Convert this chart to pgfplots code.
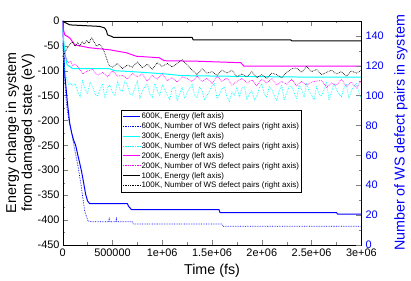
\documentclass[border=0pt]{standalone}
\usepackage{fontspec}
\setmainfont{Liberation Sans}
\usepackage{pgfplots}
\pgfplotsset{compat=1.18}
\definecolor{gpblue}{RGB}{0,0,255}
\definecolor{gpcyan}{RGB}{0,255,255}
\definecolor{gpmag}{RGB}{255,0,255}

\pgfplotsset{
  gpbase/.style={
    scale only axis, width=300bp, height=225bp,
    xmin=0, xmax=3000000,
    tick align=inside,
    major tick length=5bp, minor tick length=2.5bp,
    /pgf/number format/assume math mode=true,
    tick label style={font=\fontsize{11}{12}\selectfont, inner sep=1pt},
    label style={font=\fontsize{14.4}{16}\selectfont},
    every axis plot/.append style={line join=round},
  },
}

\begin{document}
\begin{tikzpicture}
% left axis: energy
\begin{axis}[gpbase,
  ymin=-450, ymax=0,
  ytick={-450,-400,-350,-300,-250,-200,-150,-100,-50,0},
  minor y tick num=1,
  yticklabel style={xshift=-2bp},
  xtick={0,500000,1000000,1500000,2000000,2500000,3000000},
  xticklabels={0,500000,1e+06,1.5e+06,2e+06,2.5e+06,3e+06},
  xticklabel style={yshift=-3bp},
  scaled x ticks=false,
  minor x tick num=1,
  ytick pos=left,
  xlabel={Time (fs)},
  ylabel={Energy change in system\\from damaged state (eV)},
  xlabel style={at={(axis description cs:0.5,-0.115)},anchor=center},
  ylabel style={at={(axis description cs:-0.142,0.5)},anchor=center,align=center},
]
\addplot[gpblue, line width=1pt] coordinates {
(0,0)(8000,-50)(20000,-105)(45000,-160)(70000,-205)(90000,-225)(110000,-240)(130000,-250)
(150000,-268)(170000,-285)(190000,-303)(210000,-325)(230000,-348)(250000,-362)(270000,-367)
(650000,-367)(660000,-372)(690000,-379)(1570000,-379)(1580000,-385)(2750000,-385)(2760000,-388)(3000000,-388)};
\addplot[gpcyan, line width=1pt] coordinates {
(0,0)(10000,-40)(25000,-68)(45000,-88)(100000,-96)(470000,-96)(520000,-100)(700000,-102)
(1000000,-106)(1200000,-110)(2000000,-112)(2500000,-113)(3000000,-113)};
\addplot[gpmag, line width=1pt] coordinates {
(0,0)(5000,-15)(20000,-28)(70000,-34)(120000,-48)(270000,-54)(470000,-58)(640000,-64)
(740000,-71)(970000,-74)(1020000,-80)(1350000,-81)(1790000,-84)(1820000,-91)(3000000,-91)};
\addplot[black, line width=1pt] coordinates {
(0,0)(20000,-3)(70000,-8)(370000,-11)(420000,-14)(440000,-20)(450000,-28)(490000,-31)
(510000,-33)(1300000,-33)(1310000,-38)(2290000,-38)(2300000,-40)(3000000,-40)};
\end{axis}

% right axis: number of WS defect pairs
\begin{axis}[gpbase,
  ymin=0, ymax=150,
  ytick={0,20,40,60,80,100,120,140},
  minor y tick num=1,
  axis y line*=right,
  hide x axis,
  yticklabel style={gpblue, xshift=3bp},
  ylabel={Number of WS defect pairs in system},
  ylabel style={at={(axis description cs:1.133,0.5)},anchor=center,gpblue},
  legend style={at={(0.8,0.604)}, anchor=north east, draw=black, fill=white,
    font=\fontsize{8}{9}\selectfont, inner sep=1.5pt,
    nodes={text height=6.3pt, text depth=1.7pt, inner sep=1pt}},
  legend cell align=left,
  legend image code/.code={\draw[#1] (0bp,0bp) -- (17bp,0bp);},
]
\addlegendimage{gpblue, line width=1pt}
\addlegendentry{600K, Energy (left axis)}
\addplot[gpblue, densely dotted, line width=0.7pt] coordinates {
(0,135)(15000,115)(37000,95)(60000,84)(90000,75)(120000,64)(153000,53)(187000,39)(203000,31)
(220000,23)(253000,16)(300000,15.5)(460000,15.5)(470000,18.5)(475000,15.5)(535000,15.5)
(540000,18.5)(545000,15.5)(700000,15.5)(710000,14)(1600000,14)(1610000,12.5)(3000000,12.5)};
\addlegendentry{600K, Number of WS defect pairs (right axis)}
\addlegendimage{gpcyan, line width=1pt}
\addlegendentry{300K, Energy (left axis)}
\addplot[gpcyan, densely dotted, line width=0.7pt] coordinates {
(0,137)(5000,130)(10000,125)(20000,116)(40000,111)(60000,107)(80000,108)(100000,106.8)
(125000,108)(150000,102.6)(175000,99)(200000,110.4)(225000,104)(250000,101.4)(275000,109)
(300000,106.2)(325000,101)(350000,99.6)(375000,104)(400000,108)(425000,98)(450000,105.6)
(475000,107)(500000,102)(525000,100)(550000,109.8)(575000,104)(600000,102.7)(625000,110)
(650000,106.9)(675000,101)(700000,100.3)(725000,105)(750000,110)(775000,98)(800000,102.8)
(825000,106)(850000,107.6)(875000,101)(900000,98.7)(925000,108)(950000,103.5)(975000,100)
(1000000,107.2)(1025000,104)(1050000,100.6)(1075000,97)(1100000,104.8)(1125000,106)
(1150000,96.5)(1175000,101)(1200000,105.5)(1225000,98)(1250000,101.9)(1275000,105)
(1300000,107.4)(1325000,100)(1350000,98.4)(1375000,106)(1400000,103.2)(1425000,97)
(1450000,100.2)(1475000,103)(1500000,106.8)(1525000,108)(1550000,97.8)(1575000,101)
(1600000,104.4)(1625000,106)(1650000,99)(1675000,96)(1700000,102.6)(1725000,100)
(1750000,105.6)(1775000,99)(1800000,104.8)(1825000,106)(1850000,97.2)(1875000,101)
(1900000,103.2)(1925000,97)(1950000,99.6)(1975000,105)(2000000,108)(2025000,101)
(2050000,98.9)(2075000,106)(2100000,104.3)(2125000,100)(2150000,96.5)(2175000,103)
(2200000,107.2)(2225000,97)(2250000,101.8)(2275000,106)(2300000,106)(2325000,102)
(2350000,97.6)(2375000,107)(2400000,104.1)(2425000,99)(2450000,108.3)(2475000,103)
(2500000,100.5)(2525000,97)(2550000,105.9)(2575000,101)(2600000,99.8)(2625000,104)
(2650000,109.4)(2675000,97)(2700000,102.2)(2725000,108)(2750000,104)(2775000,101)
(2800000,99.2)(2825000,105)(2850000,107.6)(2875000,98)(2900000,103.4)(2925000,106)
(2950000,108.2)(2975000,102)(3000000,98)};
\addlegendentry{300K, Number of WS defect pairs (right axis)}
\addlegendimage{gpmag, line width=1pt}
\addlegendentry{200K, Energy (left axis)}
\addplot[gpmag, densely dotted, line width=0.7pt] coordinates {
(0,135)(10000,131)(20000,128)(40000,124)(60000,122)(80000,123)(100000,120)(120000,121)
(150000,119.5)(200000,114.5)(250000,116.5)(300000,117.5)(350000,113.5)(400000,115.5)
(450000,112.5)(500000,116.5)(550000,113)(600000,113.5)(650000,111)(700000,115)(750000,112.5)
(800000,114.5)(850000,109.5)(900000,113.5)(950000,111)(1000000,114.5)(1050000,110)(1100000,112)
(1150000,109)(1200000,112.5)(1250000,111.5)(1300000,109.5)(1350000,113)(1400000,109.5)
(1450000,111.5)(1500000,108)(1550000,113)(1600000,109.5)(1650000,111.8)(1700000,107)
(1750000,109.5)(1800000,111.5)(1850000,108.5)(1900000,110.5)(1950000,106.5)(2000000,111)
(2050000,108.5)(2100000,111.5)(2150000,107)(2200000,109.5)(2250000,107.5)(2300000,111)
(2350000,106.5)(2400000,109.5)(2450000,107)(2500000,109)(2550000,109.8)(2600000,110)
(2650000,105.5)(2700000,108.5)(2750000,106.8)(2800000,111)(2850000,106)(2900000,109)
(2950000,105)(3000000,110)};
\addlegendentry{200K, Number of WS defect pairs (right axis)}
\addlegendimage{black, line width=1pt}
\addlegendentry{100K, Energy (left axis)}
\addplot[black, densely dotted, line width=0.7pt] coordinates {
(0,126)(10000,127)(30000,130)(50000,132)(75000,134.5)(100000,136)(125000,133)(150000,135.5)
(170000,133)(195000,136)(220000,134.5)(240000,137)(265000,135)(290000,139)(315000,136)
(340000,133)(370000,134.5)(400000,132)(420000,129)(440000,125)(455000,122)(470000,120)
(500000,119)(550000,121.5)(600000,118)(650000,120.5)(700000,119)(750000,122.5)(800000,118.5)
(850000,121)(900000,117.5)(950000,122)(1000000,119.5)(1050000,121.5)(1100000,119)
(1150000,121.5)(1200000,124)(1250000,120.5)(1300000,117)(1350000,114)(1400000,118)
(1450000,115)(1500000,116)(1550000,113.5)(1600000,117)(1650000,115)(1700000,117)
(1750000,112.5)(1800000,114.5)(1850000,112.5)(1900000,116)(1950000,112)(2000000,114)
(2050000,111.5)(2100000,115)(2150000,114)(2200000,112)(2250000,115.5)(2300000,118)
(2350000,118.5)(2400000,115.5)(2450000,119.5)(2500000,116)(2550000,117.5)(2600000,114)
(2650000,115.5)(2700000,117)(2750000,114.5)(2800000,116)(2850000,113)(2900000,116.5)
(2950000,115)(3000000,117)};
\addlegendentry{100K, Number of WS defect pairs (right axis)}
\end{axis}
\path ([shift={(-63bp,-34bp)}]current axis.south west) rectangle ([shift={(48bp,21bp)}]current axis.north east);
\end{tikzpicture}
\end{document}
